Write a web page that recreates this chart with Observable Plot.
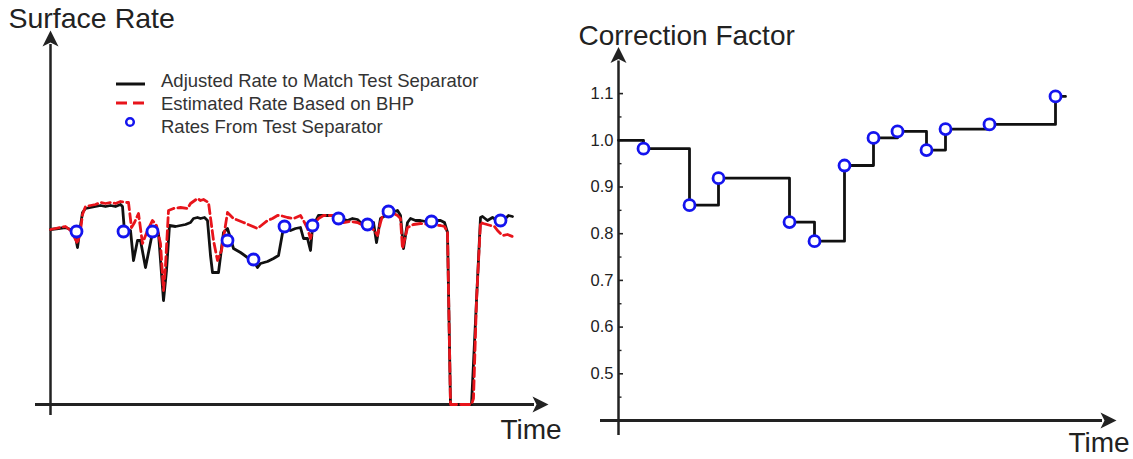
<!DOCTYPE html>
<html><head><meta charset="utf-8">
<script src="https://cdn.jsdelivr.net/npm/d3@7"></script>
<script src="https://cdn.jsdelivr.net/npm/@observablehq/plot@0.6"></script>
<style>
body{margin:0;background:#fff;font-family:"Liberation Sans",Arial,Helvetica,sans-serif;}
#wrap{position:relative;width:1133px;height:459px;display:flex;overflow:hidden;}
.panel{position:relative;}
.overlay{position:absolute;left:0;top:0;pointer-events:none;}
</style></head><body>
<div id="wrap"><div id="left" class="panel"></div><div id="right" class="panel"></div></div>
<script>
// ---------------- Left chart: surface rate vs time ----------------
const adjTime = [2,10,17,22,26,29,31,34,37,42,47,52,57,62,67,72,74,76,80,82,85,89,92,97,104,110,115,118,121,127,132,137,142,145,149,152,156,159,162,164,170,175,179,185,192,199,205,209,212,219,225,230,235,242,247,252,255,259,262,264,270,285,292,299,304,309,315,319,325,328,332,337,342,349,352,355,359,362,367,372,377,383,388,392,396,399,402,423,428,432,434,439,444,449,454,460,464];
const adjRate = [1750,1760,1770,1750,1730,1570,1720,1920,1960,1970,1980,1990,1980,1990,1980,2000,1980,1730,1720,1740,1440,1640,1640,1370,1720,1710,1040,1340,1790,1780,1790,1800,1820,1860,1870,1860,1870,1840,1490,1320,1320,1720,1760,1560,1520,1470,1440,1370,1410,1430,1460,1490,1770,1740,1760,1770,1660,1660,1540,1770,1890,1890,1860,1840,1860,1850,1790,1800,1820,1620,1860,1890,1920,1940,1890,1560,1820,1860,1840,1840,1830,1830,1840,1840,1820,1720,0,0,1040,1870,1880,1840,1870,1840,1830,1890,1880];
const estTime = [2,7,12,17,22,25,29,32,34,37,42,47,52,57,62,67,72,77,80,83,86,90,94,99,104,108,112,115,117,120,125,132,139,142,149,152,155,160,165,169,173,179,185,195,202,209,214,219,224,229,232,239,245,252,255,259,262,265,270,275,285,295,302,309,315,322,326,329,332,335,339,345,349,352,354,359,365,372,382,392,396,399,402,423,425,428,432,435,442,446,449,454,459,464];
const estRate = [1750,1760,1770,1780,1740,1690,1610,1740,1900,1980,1990,2000,2020,2010,2020,2010,2030,2020,2020,1770,1820,1910,1610,1740,1840,1790,1610,1140,1390,1940,1960,1970,1960,2010,2060,2040,2050,2020,1640,1440,1540,1920,1860,1820,1790,1760,1800,1840,1860,1890,1890,1870,1860,1890,1840,1760,1660,1790,1860,1890,1890,1820,1830,1820,1790,1770,1740,1690,1820,1920,1900,1910,1890,1860,1560,1770,1800,1810,1800,1790,1780,1720,0,0,60,1040,1820,1810,1790,1780,1740,1690,1700,1680];
const sepTime = [28,75,104,179,205,236,264,290,319,340,383,452];
const sepRate = [1730,1730,1730,1640,1450,1780,1790,1860,1800,1930,1830,1840];
const legendLabels = ["Adjusted Rate to Match Test Separator","Estimated Rate Based on BHP","Rates From Test Separator"];

// ---------------- Right chart: correction factor vs time ----------------
const cfTime = [0,25,71,100,171,196,226,255,279,308,327,371,437,447];
const cfValue = [1.0,0.982,0.861,0.919,0.825,0.784,0.946,1.005,1.019,0.979,1.024,1.034,1.094,1.094];
const cfMarkTime = [25,71,100,171,196,226,255,279,308,327,371,437];
const cfMarkValue = [0.982,0.861,0.919,0.825,0.784,0.946,1.005,1.019,0.979,1.024,1.034,1.094];
const cfMajorTicks = [0.5,0.6,0.7,0.8,0.9,1.0,1.1];
const cfMinorTicks = [0.45,0.55,0.65,0.75,0.85,0.95,1.05];

const BLACK = "#111", RED = "#e8141b", BLUE = "#1414ee", AXIS = "#222";
const FONT = "'Liberation Sans', Arial, Helvetica, sans-serif";

// concave filled arrowhead with its tip at the origin, pointing up
const arrowHead = {draw(ctx) {
  ctx.moveTo(0, 0); ctx.lineTo(8, 16); ctx.lineTo(0, 12); ctx.lineTo(-8, 16); ctx.closePath();
}};

const adj = adjTime.map((t, i) => ({t, r: adjRate[i]}));
const est = estTime.map((t, i) => ({t, r: estRate[i]}));
const sep = sepTime.map((t, i) => ({t, r: sepRate[i]}));

const LX = [2, 500], LY = [0, 3740];
const left = Plot.plot({
  width: 566, height: 459, margin: 0,
  style: {fontFamily: FONT, background: "white", overflow: "visible"},
  x: {domain: LX, range: [50, 548], axis: null},
  y: {domain: LY, range: [404, 30], axis: null},
  marks: [
    Plot.ruleX([LX[0]], {y1: LY[0] - 110, y2: LY[1] - 140, stroke: AXIS, strokeWidth: 2.5}),
    Plot.ruleY([LY[0]], {x1: LX[0] - 15, x2: LX[1] - 14, stroke: AXIS, strokeWidth: 3}),
    Plot.dot([{t: LX[0], r: LY[1]}], {x: "t", y: "r", symbol: arrowHead, fill: AXIS, stroke: "none"}),
    Plot.dot([{t: LX[1], r: LY[0]}], {x: "t", y: "r", symbol: arrowHead, rotate: 90, fill: AXIS, stroke: "none"}),
    Plot.line(adj, {x: "t", y: "r", stroke: BLACK, strokeWidth: 2.8}),
    Plot.line(est, {x: "t", y: "r", stroke: RED, strokeWidth: 2.8, strokeDasharray: "9,4"}),
    Plot.dot(sep, {x: "t", y: "r", r: 5.5, stroke: BLUE, strokeWidth: 2.8, fill: "white"}),
    Plot.text(["Surface Rate"], {frameAnchor: "top-left", dx: 8, dy: 7, textAnchor: "start", lineAnchor: "top", fontSize: 28.5, fill: AXIS}),
    Plot.text(["Time"], {frameAnchor: "top-left", dx: 500, dy: 438, textAnchor: "start", lineAnchor: "bottom", fontSize: 28, fill: AXIS})
  ]
});
document.getElementById("left").appendChild(left);

// legend overlay
const lg = d3.select("#left").append("svg").attr("class", "overlay").attr("width", 566).attr("height", 459)
  .style("font-family", FONT);
lg.append("line").attr("x1", 116).attr("x2", 145).attr("y1", 84).attr("y2", 84).attr("stroke", BLACK).attr("stroke-width", 3);
lg.append("line").attr("x1", 116).attr("x2", 145).attr("y1", 103).attr("y2", 103).attr("stroke", RED).attr("stroke-width", 3).attr("stroke-dasharray", "11,6");
lg.append("circle").attr("cx", 130).attr("cy", 122).attr("r", 3.8).attr("fill", "white").attr("stroke", BLUE).attr("stroke-width", 2.5);
legendLabels.forEach((s, i) => {
  lg.append("text").attr("x", 161).attr("y", 87 + i * 23.2).attr("font-size", 18.5).attr("fill", "#333").text(s);
});

const cf = cfTime.map((t, i) => ({t, v: cfValue[i]}));
const cfm = cfMarkTime.map((t, i) => ({t, v: cfMarkValue[i]}));
const RX = [0, 498], RY = [0.4, 1.2];
const right = Plot.plot({
  width: 567, height: 459, margin: 0,
  style: {fontFamily: FONT, background: "white", overflow: "visible"},
  x: {domain: RX, range: [52, 550], axis: null},
  y: {domain: RY, range: [420, 46.4], axis: null},
  marks: [
    Plot.ruleX([RX[0]], {y1: RY[0] - 0.032, y2: RY[1] - 0.03, stroke: AXIS, strokeWidth: 2.5}),
    Plot.ruleY([RY[0]], {x1: RX[0] - 18, x2: RX[1] - 14, stroke: AXIS, strokeWidth: 3}),
    Plot.dot([{t: RX[0], v: RY[1]}], {x: "t", y: "v", symbol: arrowHead, fill: AXIS, stroke: "none"}),
    Plot.dot([{t: RX[1], v: RY[0]}], {x: "t", y: "v", symbol: arrowHead, rotate: 90, fill: AXIS, stroke: "none"}),
    Plot.ruleY(cfMajorTicks, {y: d => d, x1: RX[0], x2: RX[0] + 5, stroke: AXIS, strokeWidth: 1.6}),
    Plot.ruleY(cfMinorTicks, {y: d => d, x1: RX[0], x2: RX[0] + 3.5, stroke: AXIS, strokeWidth: 1.4}),
    Plot.text(cfMajorTicks, {x: RX[0], y: d => d, text: d => d.toFixed(1), textAnchor: "end", dx: -5, fontSize: 16.5, fill: AXIS}),
    Plot.line(cf, {x: "t", y: "v", curve: "step-after", stroke: BLACK, strokeWidth: 2.8}),
    Plot.dot(cfm, {x: "t", y: "v", r: 5.5, stroke: BLUE, strokeWidth: 2.8, fill: "white"}),
    Plot.text(["Correction Factor"], {frameAnchor: "top-left", dx: 12, dy: 25, textAnchor: "start", lineAnchor: "top", fontSize: 28, fill: AXIS}),
    Plot.text(["Time"], {frameAnchor: "top-left", dx: 502, dy: 451, textAnchor: "start", lineAnchor: "bottom", fontSize: 28, fill: AXIS})
  ]
});
document.getElementById("right").appendChild(right);
</script>
</body></html>
